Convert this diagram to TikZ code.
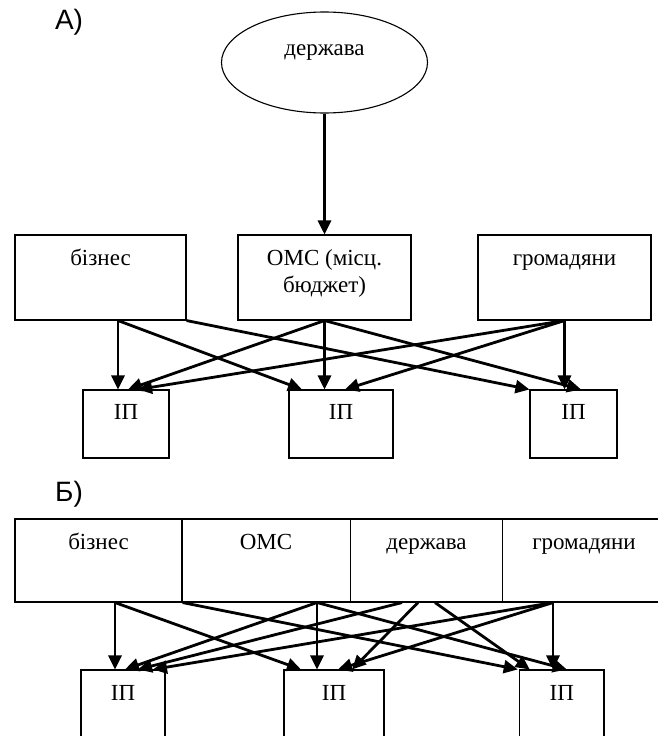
\documentclass[tikz,border=0pt]{standalone}
\usepackage{fontspec}
\setmainfont{Liberation Serif}
\newfontfamily\labelfont{Liberation Sans}
\usetikzlibrary{arrows.meta,shapes.geometric}
\tikzset{
    >={Triangle[length=14pt,width=13pt]},
    every edge/.style={draw,->,line width=2.8pt}
}

\begin{document}
\begin{tikzpicture}[x=1pt,y=-1pt,
                    box/.style={draw,line width=1.1pt,inner sep=0pt,minimum height=85pt},
                    ipbox/.style={draw,line width=1.1pt,inner sep=0pt,minimum height=68pt},
                    txt/.style={font=\fontsize{23}{27.5}\selectfont,anchor=base,inner sep=0pt},
                    part/.style={font=\labelfont\fontsize{28}{32}\selectfont,inner sep=0pt}]
\useasboundingbox (0,0) rectangle (658,736);
\clip (0,0) rectangle (658,736);

% Part A
\node[part] (lblA) at (69,22) {А)};
\node[draw,ellipse,line width=1.1pt,inner sep=0pt,minimum width=206pt,minimum height=101pt] (stA) at (324.5,62.5) {};
\node[txt] (tstA) at (324.5,55) {держава};

\node[box,minimum width=171pt] (bizA) at (100.5,277.5) {};
\node[box,minimum width=173pt] (omsA) at (324.5,277.5) {};
\node[box,minimum width=173pt] (gromA) at (564.5,277.5) {};
\node[txt] (tbizA) at (100.5,265) {бізнес};
\node[txt] (tomsA) at (324.5,265) {\begin{tabular}[t]{@{}c@{}}ОМС (місц.\\бюджет)\end{tabular}};
\node[txt] (tgromA) at (564.5,265) {громадяни};

\node[ipbox,minimum width=86pt] (ip1A) at (126,424) {};
\node[ipbox,minimum width=104pt] (ip2A) at (341,424) {};
\node[ipbox,minimum width=87pt] (ip3A) at (573.5,424) {};
\node[txt] (tip1A) at (126,419.5) {ІП};
\node[txt] (tip2A) at (341,419.5) {ІП};
\node[txt] (tip3A) at (573.5,419.5) {ІП};

% Flows A
\path (stA.south) edge (omsA.north);
\path ([xshift=17.5pt]bizA.south) edge ([xshift=-8pt]ip1A.north);
\path ([xshift=17.5pt]bizA.south) edge ([xshift=-39pt]ip2A.north);
\path (bizA.south east) edge (ip3A.north west);
\path (omsA.south) edge ([xshift=2pt]ip1A.north);
\path (omsA.south) edge ([xshift=-16.5pt]ip2A.north);
\path (omsA.south) edge ([xshift=7.5pt]ip3A.north);
\path (gromA.south) edge ([xshift=12pt]ip1A.north);
\path (gromA.south) edge ([xshift=4pt]ip2A.north);
\path (gromA.south) edge ([xshift=-9pt]ip3A.north);

% Part B
\node[part] (lblB) at (69,494) {Б)};
\node[box,minimum width=167pt,minimum height=83pt] (bizB) at (98.5,560.5) {};
\node[box,minimum width=168.5pt,minimum height=83pt] (omsB) at (266.25,560.5) {};
\node[box,minimum width=152pt,minimum height=83pt] (stB) at (426.5,560.5) {};
\node[box,minimum width=165.5pt,minimum height=83pt] (gromB) at (585.25,560.5) {};
\node[txt] (tbizB) at (98.5,549) {бізнес};
\node[txt] (tomsB) at (266,549) {ОМС};
\node[txt] (tstB) at (426.5,549) {держава};
\node[txt] (tgromB) at (584,549) {громадяни};

\node[ipbox,minimum width=84pt,minimum height=90pt] (ip1B) at (123,715) {};
\node[ipbox,minimum width=100pt,minimum height=90pt] (ip2B) at (334,715) {};
\node[ipbox,minimum width=84.5pt,minimum height=90pt] (ip3B) at (561.75,715) {};
\node[txt] (tip1B) at (123,700) {ІП};
\node[txt] (tip2B) at (334,700) {ІП};
\node[txt] (tip3B) at (561.75,700) {ІП};

% Flows B
\path ([xshift=16.5pt]bizB.south) edge ([xshift=-8pt]ip1B.north);
\path ([xshift=16.5pt]bizB.south) edge ([xshift=-33pt]ip2B.north);
\path (bizB.south east) edge ([xshift=-44pt]ip3B.north);
\path ([xshift=50.75pt]omsB.south) edge ([xshift=2pt]ip1B.north);
\path ([xshift=50.75pt]omsB.south) edge ([xshift=-17pt]ip2B.north);
\path ([xshift=50.75pt]omsB.south) edge ([xshift=5pt]ip3B.north);
\path ([xshift=-24.5pt]stB.south) edge ([xshift=15pt]ip1B.north);
\path ([xshift=-8.5pt]stB.south) edge ([xshift=18pt]ip2B.north);
\path ([xshift=8.5pt]stB.south) edge ([xshift=-32pt]ip3B.north);
\path ([xshift=-32.25pt]gromB.south) edge ([xshift=30pt]ip1B.north);
\path ([xshift=-32.25pt]gromB.south) edge ([xshift=4pt]ip2B.north);
\path ([xshift=-32.25pt]gromB.south) edge ([xshift=-8.75pt]ip3B.north);

\end{tikzpicture}
\end{document}
